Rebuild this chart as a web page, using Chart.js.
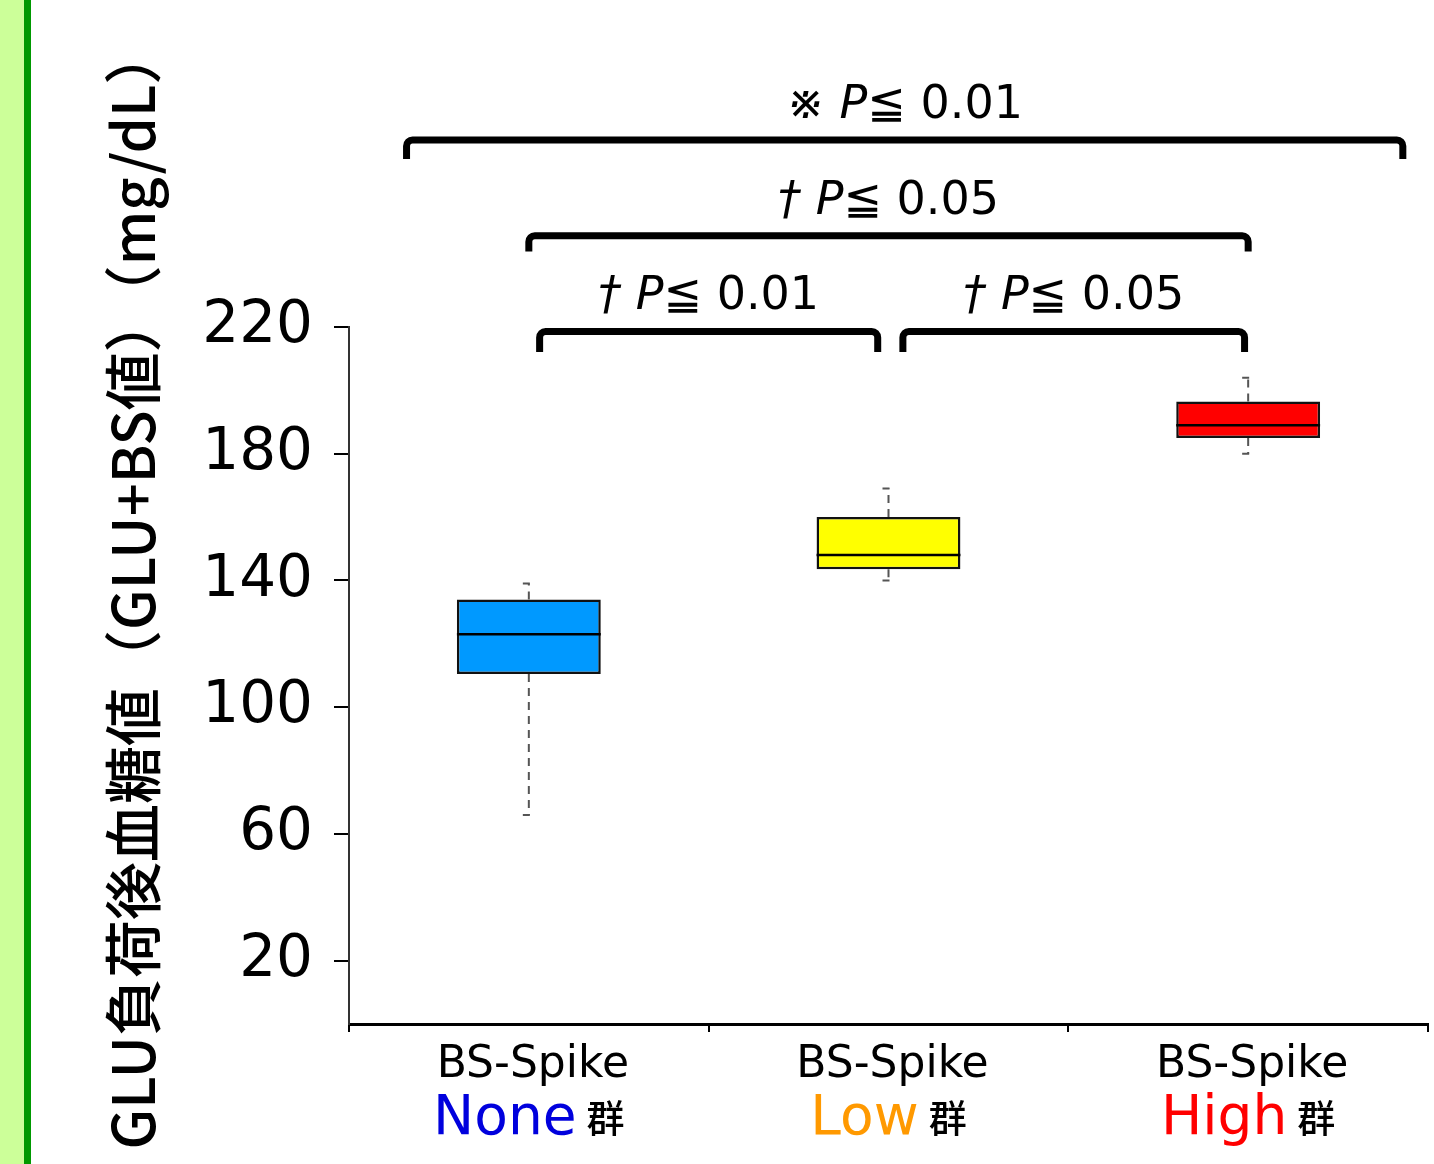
<!DOCTYPE html>
<html>
<head>
<meta charset="utf-8">
<script src="https://cdn.jsdelivr.net/npm/chart.js@4.4.0/dist/chart.umd.min.js"></script>
<style>
  html, body { margin: 0; padding: 0; background: #fff; }
  #wrap { position: relative; width: 1434px; height: 1164px; }
  #strip { position: absolute; left: 0; top: 0; width: 24px; height: 1164px; background: #ccff99; border-right: 7px solid #009900; }
  canvas { position: absolute; left: 0; top: 0; }
</style>
</head>
<body>
<div id="wrap">
  <canvas id="boxChart" width="1434" height="1164"></canvas>
  <div id="strip"></div>
</div>
<script>
// groups and box statistics (mg/dL)
const groups = ['None', 'Low', 'High'];
const whiskerLow = [66, 140, 180];
const q1 = [110.5, 143.5, 185];
const median = [123, 148, 189];
const q3 = [134, 160, 196.5];
const whiskerHigh = [139, 169, 204];
const yTicks = [20, 60, 100, 140, 180, 220];

// significance brackets: span in category index, height in mg/dL
const bracketFrom = [-0.34, 0, 0.03, 1.04];
const bracketTo = [2.43, 2, 0.97, 1.99];
const bracketLevel = [279, 248.8, 218.6, 218.6];
const bracketLeg = [6, 5, 6.5, 6.5];
const bracketMark = ['※', '†', '†', '†'];
const bracketP = ['0.01', '0.05', '0.01', '0.05'];

const yTitle = 'GLU負荷後血糖値（GLU+BS値）（mg/dL）';
const FONT = '"DejaVu Sans", "Noto Sans CJK JP", sans-serif';
const CJK = '"Noto Sans CJK JP", sans-serif';
const boxColors = ['#0099ff', '#ffff00', '#ff0000'];
const nameColors = ['#0000dd', '#ff9900', '#ff0000'];

Chart.defaults.font.family = FONT;

const boxExtras = {
  id: 'boxExtras',
  afterDatasetsDraw(chart) {
    const ctx = chart.ctx;
    const y = chart.scales.y;
    const meta = chart.getDatasetMeta(0);
    ctx.save();
    meta.data.forEach((bar, i) => {
      const cx = bar.x;
      const half = bar.width / 2;
      const yHi = y.getPixelForValue(whiskerHigh[i]);
      const yLo = y.getPixelForValue(whiskerLow[i]);
      ctx.strokeStyle = '#555';
      ctx.lineWidth = 2;
      ctx.setLineDash([8, 6]);
      ctx.beginPath();
      ctx.moveTo(cx, y.getPixelForValue(q3[i]));
      ctx.lineTo(cx, yHi);
      ctx.moveTo(cx, y.getPixelForValue(q1[i]));
      ctx.lineTo(cx, yLo);
      ctx.stroke();
      ctx.setLineDash([]);
      ctx.beginPath();
      ctx.moveTo(cx - 6, yHi); ctx.lineTo(cx + 1, yHi);
      ctx.moveTo(cx - 6, yLo); ctx.lineTo(cx + 1, yLo);
      ctx.stroke();
      const ym = y.getPixelForValue(median[i]);
      ctx.strokeStyle = '#000';
      ctx.lineWidth = 2.5;
      ctx.beginPath();
      ctx.moveTo(cx - half, ym);
      ctx.lineTo(cx + half, ym);
      ctx.stroke();
    });
    ctx.restore();
  }
};

function drawPLabel(ctx, cx, baseline, mark, p) {
  const size = 46;
  const parts = [
    { t: mark + ' ', f: `italic ${size}px ${FONT}` },
    { t: 'P', f: `italic ${size}px ${FONT}` },
    { t: '≦ ' + p, f: `${size}px ${FONT}` }
  ];
  let total = 0;
  parts.forEach(pt => { ctx.font = pt.f; pt.w = ctx.measureText(pt.t).width; total += pt.w; });
  let x = cx - total / 2;
  ctx.textAlign = 'left';
  ctx.textBaseline = 'alphabetic';
  ctx.fillStyle = '#000';
  parts.forEach(pt => { ctx.font = pt.f; ctx.fillText(pt.t, x, baseline); x += pt.w; });
}

const annotations = {
  id: 'annotations',
  afterDraw(chart) {
    const ctx = chart.ctx;
    const { x, y } = chart.scales;
    ctx.save();

    // brackets
    bracketLevel.forEach((lvl, i) => {
      const x1 = x.getPixelForValue(bracketFrom[i]);
      const x2 = x.getPixelForValue(bracketTo[i]);
      const yt = y.getPixelForValue(lvl);
      const yb = y.getPixelForValue(lvl - bracketLeg[i]);
      ctx.strokeStyle = '#000';
      ctx.lineWidth = 7;
      ctx.lineJoin = 'round';
      ctx.beginPath();
      ctx.moveTo(x1, yb);
      ctx.arcTo(x1, yt, x2, yt, 6);
      ctx.arcTo(x2, yt, x2, yb, 6);
      ctx.lineTo(x2, yb);
      ctx.stroke();
      drawPLabel(ctx, (x1 + x2) / 2, yt - 22, bracketMark[i], bracketP[i]);
    });

    // category labels
    groups.forEach((g, i) => {
      const cx = x.getPixelForValue(i);
      ctx.fillStyle = '#000';
      ctx.textAlign = 'center';
      ctx.textBaseline = 'alphabetic';
      ctx.font = `44px ${FONT}`;
      ctx.fillText('BS-Spike', cx + 4, x.top + 53);
      ctx.font = `55px ${FONT}`;
      const wName = ctx.measureText(g).width;
      ctx.font = `500 38px ${CJK}`;
      const wGun = ctx.measureText('群').width;
      const gap = 10;
      const left = cx - (wName + gap + wGun) / 2;
      ctx.textAlign = 'left';
      ctx.font = `55px ${FONT}`;
      ctx.fillStyle = nameColors[i];
      ctx.fillText(g, left, x.top + 110);
      ctx.font = `500 38px ${CJK}`;
      ctx.fillStyle = '#000';
      ctx.fillText('群', left + wName + gap, x.top + 108);
    });

    // y axis title
    ctx.translate(133, 588);
    ctx.rotate(-Math.PI / 2);
    ctx.font = `500 58px ${CJK}`;
    ctx.fillStyle = '#000';
    ctx.textAlign = 'center';
    ctx.textBaseline = 'middle';
    ctx.fillText(yTitle, 0, 0);
    ctx.restore();
  }
};

new Chart(document.getElementById('boxChart'), {
  type: 'bar',
  data: {
    labels: groups,
    datasets: [{
      data: groups.map((g, i) => [q1[i], q3[i]]),
      backgroundColor: boxColors,
      borderColor: '#111',
      borderWidth: 2.5,
      borderSkipped: false,
      categoryPercentage: 1,
      barPercentage: 0.4
    }]
  },
  options: {
    responsive: false,
    animation: false,
    devicePixelRatio: 1,
    layout: { padding: { top: 327, right: 6, left: 0, bottom: 0 } },
    plugins: { legend: { display: false }, tooltip: { enabled: false } },
    scales: {
      x: {
        afterFit: s => { s.height = 140; },
        ticks: { display: false },
        grid: { offset: true, drawOnChartArea: false, tickLength: 8, color: '#000', lineWidth: 2 },
        border: { color: '#000', width: 3 }
      },
      y: {
        min: 0,
        max: 220,
        afterBuildTicks: s => { s.ticks = yTicks.map(v => ({ value: v })); },
        afterFit: s => { s.width = 349; },
        ticks: { font: { size: 58 }, color: '#000', padding: 21 },
        grid: { drawOnChartArea: false, tickLength: 15, color: '#000', lineWidth: 2 },
        border: { color: '#333', width: 2 }
      }
    }
  },
  plugins: [boxExtras, annotations]
});
</script>
</body>
</html>
